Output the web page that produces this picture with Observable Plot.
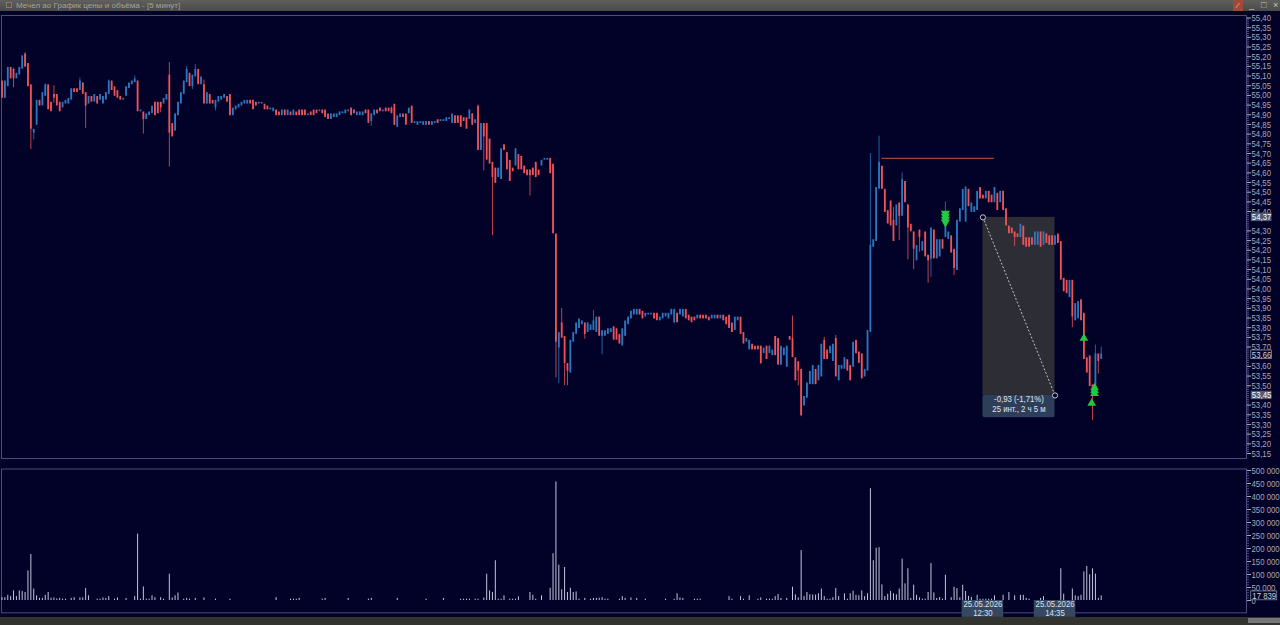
<!DOCTYPE html>
<html lang="ru">
<head>
<meta charset="utf-8">
<title>Мечел ао График цены и объёма</title>
<script src="https://cdn.jsdelivr.net/npm/d3@7"></script>
<script src="https://cdn.jsdelivr.net/npm/@observablehq/plot@0.6"></script>
<style>
html,body{margin:0;padding:0;background:#020127;overflow:hidden}
#win{position:relative;width:1280px;height:625px;background:#020127;overflow:hidden;font-family:"Liberation Sans",Arial,sans-serif}
#bar{position:absolute;left:0;top:0;width:1280px;height:11px;background:linear-gradient(#5f5f5c,#4a4a48)}
#bar .t{position:absolute;left:16px;top:0;line-height:11px;font-size:8.05px;color:#a3a39f;white-space:nowrap}
#bar .i{position:absolute;left:6px;top:2px;width:6px;height:6px;background:#6a4a44;border:1px solid #7d7d7a;box-sizing:border-box}
#bar .r{position:absolute;left:1233px;top:0;width:10px;height:11px;background:#a5483a;color:#e8c8b8;font-size:8px;line-height:11px;text-align:center}
#bar .b{position:absolute;top:0;line-height:11px;font-size:9px;color:#c8c8c4}
#foot{position:absolute;left:0;top:617px;width:1280px;height:8px;background:#33332f}
#foot .s{position:absolute;left:1248px;top:1px;width:32px;height:5px;background:#77777a}
svg.p{position:absolute;left:0}
</style>
</head>
<body>
<div id="win">
  <div id="bar"><span class="i"></span><span class="t">Мечел ао График цены и объёма - [5 минут]</span><span class="r">⁄</span><span class="b" style="left:1249px">_</span><span class="b" style="left:1261px">□</span><span class="b" style="left:1273px">×</span></div>
  <div id="foot"><span class="s"></span></div>
</div>
<script>
const opens = [
55.07,54.99,55.05,55.14,55.13,55.09,55.11,55.14,55.21,55.16,
55.05,54.81,54.85,54.97,54.95,55.00,55.05,54.96,55.00,55.00,
54.96,54.94,54.96,54.96,54.98,55.03,55.03,55.03,55.06,55.01,
54.96,54.99,54.97,54.99,54.98,54.96,54.98,55.01,55.07,55.04,
55.02,54.99,54.98,55.00,55.04,55.06,55.07,55.07,54.92,54.91,
54.88,54.90,54.91,54.96,54.96,54.96,54.96,54.98,55.10,54.85,
54.82,54.90,54.96,55.01,55.07,55.11,55.05,55.10,55.13,55.06,
55.05,54.96,55.00,54.97,54.94,54.97,54.98,54.99,54.99,55.00,
54.90,54.93,54.94,54.95,54.96,54.96,54.97,54.97,54.96,54.96,
54.96,54.95,54.94,54.93,54.92,54.92,54.91,54.90,54.92,54.90,
54.91,54.90,54.91,54.92,54.92,54.92,54.90,54.91,54.92,54.92,
54.92,54.92,54.92,54.90,54.88,54.89,54.89,54.90,54.91,54.91,
54.92,54.93,54.92,54.90,54.90,54.90,54.92,54.92,54.87,54.90,
54.92,54.93,54.92,54.93,54.93,54.93,54.95,54.84,54.89,54.90,
54.90,54.91,54.94,54.86,54.85,54.86,54.85,54.85,54.86,54.85,
54.86,54.87,54.87,54.87,54.87,54.88,54.86,54.89,54.89,54.89,
54.88,54.88,54.88,54.90,54.86,54.94,54.72,54.85,54.85,54.77,
54.65,54.62,54.58,54.57,54.74,54.70,54.66,54.62,54.64,54.69,
54.68,54.63,54.61,54.61,54.62,54.65,54.61,54.64,54.67,54.67,
54.67,54.64,54.28,53.70,53.82,53.75,53.61,53.57,53.73,53.77,
53.80,53.82,53.82,53.78,53.79,53.79,53.78,53.85,53.76,53.76,
53.77,53.78,53.80,53.79,53.76,53.71,53.76,53.82,53.85,53.87,
53.87,53.89,53.88,53.86,53.87,53.87,53.87,53.87,53.84,53.85,
53.86,53.85,53.87,53.83,53.87,53.87,53.86,53.89,53.86,53.85,
53.85,53.85,53.86,53.86,53.86,53.85,53.85,53.85,53.86,53.85,
53.86,53.85,53.86,53.82,53.79,53.84,53.85,53.77,53.73,53.69,
53.71,53.70,53.70,53.70,53.67,53.70,53.67,53.66,53.75,53.74,
53.61,53.66,53.60,53.75,53.74,53.64,53.62,53.58,53.40,53.44,
53.51,53.51,53.58,53.53,53.55,53.73,53.68,53.67,53.63,53.74,
53.53,53.59,53.59,53.63,53.60,53.60,53.73,53.67,53.66,53.55,
53.58,53.78,54.22,54.25,54.52,54.63,54.51,54.40,54.45,54.35,
54.33,54.44,54.38,54.55,54.43,54.33,54.29,54.15,54.30,54.20,
54.29,54.17,54.16,54.30,54.16,54.17,54.25,54.27,54.26,54.27,
54.20,54.10,54.35,54.41,54.35,54.51,54.40,54.40,54.41,54.52,
54.48,54.47,54.50,54.48,54.45,54.49,54.45,54.50,54.41,54.32,
54.31,54.29,54.28,54.27,54.32,54.26,54.26,54.26,54.23,54.23,
54.29,54.23,54.28,54.27,54.27,54.23,54.28,54.24,54.05,54.04,
53.96,54.04,53.84,53.85,53.94,53.87,53.64,53.65,53.50,53.46,53.66,53.64];
const closes = [
54.99,55.07,55.14,55.09,55.09,55.11,55.14,55.20,55.15,55.05,
54.83,54.82,54.97,54.95,55.01,55.05,54.93,54.92,54.99,54.95,
54.92,54.96,54.97,54.98,55.03,55.02,55.02,55.07,55.01,54.95,
54.99,54.97,55.00,54.96,55.00,54.99,55.01,55.07,55.03,55.00,
54.99,54.98,54.98,55.04,55.06,55.07,55.08,54.92,54.92,54.88,
54.90,54.91,54.94,54.90,54.91,54.94,54.98,55.00,54.81,54.79,
54.90,54.96,55.01,55.07,55.13,55.05,55.10,55.13,55.06,55.09,
54.96,55.01,54.96,54.96,54.97,54.99,54.99,55.00,54.97,54.90,
54.93,54.94,54.95,54.96,54.97,54.97,54.96,54.93,54.95,54.96,
54.96,54.93,54.93,54.93,54.93,54.90,54.90,54.92,54.90,54.92,
54.90,54.92,54.90,54.90,54.90,54.90,54.90,54.90,54.90,54.91,
54.92,54.91,54.89,54.88,54.90,54.90,54.90,54.91,54.91,54.92,
54.92,54.90,54.91,54.91,54.91,54.91,54.91,54.86,54.90,54.92,
54.91,54.92,54.92,54.92,54.92,54.91,54.85,54.89,54.90,54.89,
54.85,54.93,54.86,54.86,54.86,54.86,54.86,54.86,54.85,54.86,
54.86,54.86,54.87,54.87,54.88,54.88,54.90,54.86,54.86,54.84,
54.87,54.83,54.92,54.85,54.87,54.72,54.85,54.79,54.67,54.65,
54.58,54.55,54.62,54.72,54.72,54.62,54.56,54.61,54.72,54.62,
54.62,54.60,54.59,54.59,54.59,54.58,54.59,54.66,54.67,54.67,
54.60,54.29,53.73,53.77,53.75,53.62,53.58,53.73,53.77,53.82,
53.84,53.83,53.77,53.82,53.81,53.83,53.85,53.76,53.78,53.78,
53.79,53.79,53.74,53.74,53.72,53.79,53.83,53.85,53.88,53.89,
53.89,53.87,53.85,53.87,53.87,53.87,53.85,53.84,53.85,53.87,
53.87,53.87,53.89,53.89,53.83,53.89,53.89,53.85,53.84,53.83,
53.84,53.86,53.85,53.85,53.85,53.84,53.86,53.86,53.85,53.86,
53.84,53.82,53.80,53.78,53.85,53.85,53.77,53.72,53.74,53.73,
53.69,53.69,53.69,53.62,53.69,53.64,53.70,53.68,53.66,53.61,
53.70,53.69,53.70,53.74,53.65,53.53,53.58,53.35,53.44,53.51,
53.57,53.60,53.51,53.60,53.71,53.64,53.64,53.70,53.71,53.55,
53.60,53.60,53.64,53.58,53.53,53.72,53.67,53.62,53.54,53.58,
53.78,54.22,54.25,54.52,54.65,54.52,54.40,54.34,54.33,54.25,
54.43,54.38,54.56,54.45,54.32,54.30,54.21,54.22,54.27,54.24,
54.17,54.15,54.31,54.16,54.25,54.25,54.21,54.34,54.29,54.19,
54.11,54.35,54.41,54.51,54.52,54.43,54.44,54.42,54.50,54.47,
54.47,54.50,54.45,54.45,54.52,54.41,54.50,54.41,54.33,54.29,
54.29,54.27,54.27,54.33,54.23,54.22,54.22,54.23,54.29,54.29,
54.22,54.29,54.24,54.23,54.23,54.27,54.24,54.05,53.99,53.98,
54.04,53.86,53.92,53.93,53.84,53.64,53.57,53.50,53.45,53.66,53.63,53.66];
const upperWicks = [[4,55.14],[8,55.22],[15,55.06],[18,55.05],[27,55.09],[37,55.08],[46,55.10],[58,55.17],[64,55.15],[67,55.16],[70,55.08],[135,54.94],[165,54.95],[194,53.90],[205,53.89],[274,53.86],[285,53.75],[289,53.76],[301,54.70],[304,54.79],[309,54.42],[312,54.60],[327,54.45],[334,54.53],[379,53.71],[381,53.70]];
const lowerWicks = [[4,55.04],[10,54.72],[11,54.77],[18,54.96],[29,54.83],[49,54.80],[55,54.91],[58,54.63],[66,55.03],[74,54.92],[128,54.84],[167,54.61],[170,54.275],[183,54.48],[192,53.54],[193,53.51],[195,53.50],[196,53.50],[202,53.74],[208,53.66],[233,53.82],[263,53.61],[276,53.50],[277,53.34],[311,54.25],[314,54.15],[316,54.10],[318,54.19],[321,54.03],[322,54.06],[330,54.07],[351,54.22],[371,53.80],[378,53.32],[380,53.56]];
// volumes, thousands of lots
const volumes = [
11,11,20,15,37,15,37,35,31,114,
177,44,18,8,8,20,31,9,10,6,
8,5,5,0,8,11,0,10,10,46,
18,0,0,5,5,10,8,15,0,5,
10,0,0,8,0,0,15,255,5,52,
5,5,18,11,0,11,5,0,101,10,
18,29,0,5,8,5,0,8,0,0,
10,0,0,0,5,0,0,0,0,5,
0,0,0,0,0,0,0,0,0,0,
0,0,0,0,0,11,0,0,0,0,
5,5,5,8,0,0,0,0,0,0,
0,5,8,0,0,0,0,0,0,0,
8,0,0,0,0,0,0,5,8,0,
0,0,0,0,0,0,0,8,0,0,
0,0,0,0,0,0,0,5,0,0,
0,0,0,8,0,0,0,0,0,5,
5,5,5,0,5,5,0,9,101,37,
31,153,5,5,18,0,5,5,5,14,
0,0,0,31,20,5,0,18,0,0,
47,180,456,136,41,127,31,47,31,33,
5,0,8,0,5,8,8,9,11,5,
5,0,0,0,5,15,8,0,10,0,
8,0,0,5,0,0,0,0,0,0,
5,0,0,5,26,10,8,0,0,0,
5,5,5,0,0,0,0,0,0,0,
0,0,15,5,0,0,15,5,0,18,
0,0,5,10,0,5,5,5,15,23,
8,0,8,0,51,22,10,192,15,31,
22,21,21,26,44,15,5,5,11,46,
15,0,26,5,26,36,20,18,37,15,
26,430,153,201,203,60,15,24,35,26,
22,44,159,64,122,8,59,20,10,5,
5,31,142,29,8,11,5,97,0,11,
51,46,10,59,35,16,12,0,20,5,
5,5,5,5,18,0,0,20,0,31,
0,18,0,20,20,8,5,0,0,0,
8,15,0,0,0,0,0,122,24,0,
0,44,18,15,20,110,131,99,122,101,
8,17.839];

const priceTicks = [55.40,55.35,55.30,55.25,55.20,55.15,55.10,55.05,55.00,54.95,54.90,54.85,54.80,54.75,54.70,54.65,54.60,54.55,54.50,54.45,54.40,54.30,54.25,54.20,54.15,54.10,54.05,54.00,53.95,53.90,53.85,53.80,53.75,53.70,53.60,53.55,53.50,53.40,53.35,53.30,53.25,53.20,53.15];
const volumeTicks = [0,50000,100000,150000,200000,250000,300000,350000,400000,450000,500000];
const measureStart = {i:340, price:54.37, time:"12:30", date:"25.05.2026"};
const measureEnd = {i:365, price:53.45, time:"14:35", date:"25.05.2026"};
const measureLines = ["-0,93 (-1,71%)","25 инт., 2 ч 5 м"];
const level = {from:305, to:344, price:54.675};
const sellMarks = [[327,54.39],[327,54.375],[327,54.36],[327,54.345]];
const buyMarks = [[375,53.745],[378.7,53.49],[378.7,53.475],[378.7,53.46],[377.7,53.41]];
const priceFlags = [{p:54.37,t:"54,37",on:true},{p:53.66,t:"53,66",on:false},{p:53.45,t:"53,45",on:true}];
const lastVolume = 17839;

const RED="#ee5358", BLUE="#2b78c0", LINE="#4d4b80", TXT="#a9a9b6", FONT='"Liberation Sans",sans-serif';
const idx = d3.range(opens.length);
const hi = new Map(upperWicks), lo = new Map(lowerWicks);
const high = i => hi.has(i) ? hi.get(i) : Math.max(opens[i],closes[i]);
const low = i => lo.has(i) ? lo.get(i) : Math.min(opens[i],closes[i]);
const up = idx.filter(i => closes[i] >= opens[i]);
const down = idx.filter(i => closes[i] < opens[i]);
const minorPrice = d3.range(5315,5541).map(v => v/100);
const minorVol = d3.range(0,500001,10000);
const xScale = {domain:[0,381], range:[1.5,1100.7], axis:null};
const fmtPrice = d => d.toFixed(2).replace(".",",");
const fmtVol = d => d3.format(",")(d).replace(/,/g," ");

const candle = (ids,color) => [
  Plot.ruleX(ids,{x:i=>i,y1:low,y2:high,stroke:color,strokeWidth:1,strokeOpacity:.8}),
  Plot.ruleX(ids,{x:i=>i,y1:i=>opens[i],y2:i=>closes[i],stroke:color,strokeWidth:1.8,strokeLinecap:"square"})
];

const price = Plot.plot({
  width:1280, height:462,
  marginTop:15, marginBottom:4, marginLeft:1, marginRight:34,
  x:xScale,
  y:{domain:[53.15,55.40], range:[453,17.5], axis:null},
  style:{background:"transparent",fontFamily:FONT},
  marks:[
    Plot.frame({stroke:LINE}),
    Plot.axisY({anchor:"right",ticks:minorPrice,tickSize:2,tickFormat:()=>"",label:null,stroke:LINE}),
    Plot.axisY({anchor:"right",ticks:priceTicks,tickSize:4,tickPadding:1,tickFormat:fmtPrice,label:null,fontSize:9.5,color:TXT}),
    Plot.rect([0],{x1:measureStart.i,x2:measureEnd.i,y1:measureEnd.price,y2:measureStart.price,fill:"#2d2d36"}),
    ...candle(up,BLUE),
    ...candle(down,RED),
    Plot.ruleY([level.price],{x1:level.from,x2:level.to,stroke:"#d05050",strokeWidth:1}),
    Plot.dot(sellMarks,{x:d=>d[0],y:d=>d[1],symbol:"triangle",rotate:180,r:3.4,fill:"#22c840"}),
    Plot.dot(buyMarks,{x:d=>d[0],y:d=>d[1],symbol:"triangle",r:3.2,fill:"#22c840"}),
    Plot.line([measureStart,measureEnd],{x:"i",y:"price",stroke:"#c0c0c8",strokeWidth:1,strokeDasharray:"1.2,2.6"}),
    Plot.rect([0],{x1:measureStart.i,x2:measureEnd.i,y1:measureEnd.price,y2:53.335,fill:"#2d3e58",rx:2}),
    Plot.dot([measureStart,measureEnd],{x:"i",y:"price",r:2.6,stroke:"#c8c8d0",fill:"#020127",strokeWidth:1}),
    Plot.text([measureLines[0]],{x:(measureStart.i+measureEnd.i)/2,y:53.45,dy:4,text:d=>d,fill:"#e4e4ea",fontSize:9.5}),
    Plot.text([measureLines[1]],{x:(measureStart.i+measureEnd.i)/2,y:53.45,dy:13.5,text:d=>d,fill:"#e4e4ea",fontSize:9.5}),
    Plot.rect(priceFlags,{x1:433,x2:440.2,y1:d=>d.p-.022,y2:d=>d.p+.022,fill:d=>d.on?"#525a6e":"#020127",stroke:d=>d.on?"none":"#8a8aa0",strokeWidth:.8}),
    Plot.text(priceFlags,{x:436.6,y:"p",text:"t",fill:d=>d.on?"#ffffff":"#d4d4dc",fontSize:9.5})
  ]
});
price.classList.add("p"); price.style.top="0";

const volumePoints = idx.filter(i => volumes[i] > 0);
const volume = Plot.plot({
  width:1280, height:162,
  marginTop:5.5, marginBottom:12.7, marginLeft:1, marginRight:34,
  x:xScale,
  y:{domain:[0,500000], range:[137,7], axis:null},
  style:{background:"transparent",fontFamily:FONT},
  marks:[
    Plot.frame({stroke:LINE}),
    Plot.axisY({anchor:"right",ticks:minorVol,tickSize:2,tickFormat:()=>"",label:null,stroke:LINE}),
    Plot.axisY({anchor:"right",ticks:volumeTicks,tickSize:4,tickPadding:1,tickFormat:fmtVol,label:null,fontSize:9.5,color:TXT}),
    Plot.ruleX(volumePoints,{x:i=>i,y1:0,y2:i=>volumes[i]*1000,stroke:"#c4c4de",strokeWidth:1}),
    Plot.rect([measureStart,measureEnd],{x1:d=>d.i-7.2,x2:d=>d.i+7.2,y1:0,y2:-65000,fill:"#364760"}),
    Plot.text([measureStart,measureEnd],{x:"i",y:0,dy:3,text:"date",fill:"#dfe2ea",fontSize:9.5}),
    Plot.text([measureStart,measureEnd],{x:"i",y:0,dy:12,text:"time",fill:"#dfe2ea",fontSize:9.5}),
    Plot.rect([lastVolume],{x1:433,x2:442,y1:d=>d-17000,y2:d=>d+17000,fill:"#020127",stroke:"#8a8aa0",strokeWidth:.8}),
    Plot.text([lastVolume],{x:437.5,y:d=>d,text:fmtVol,fill:"#d4d4dc",fontSize:9.5})
  ]
});
volume.classList.add("p"); volume.style.top="463px";

const win=document.getElementById("win");
win.insertBefore(price,win.firstChild);
win.insertBefore(volume,win.firstChild);

// the reference's labels are set in a narrow face: condense the real text to the same widths
for (const t of win.querySelectorAll("svg text")) {
  if (!t.textContent.trim()) continue;
  const w = t.getComputedTextLength();
  t.setAttribute("textLength", (w*0.82).toFixed(2));
  t.setAttribute("lengthAdjust","spacingAndGlyphs");
}
</script>
</body>
</html>
